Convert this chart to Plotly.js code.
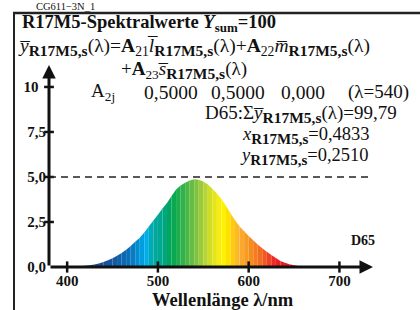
<!DOCTYPE html>
<html><head><meta charset="utf-8">
<script src="https://cdn.plot.ly/plotly-3.0.1.min.js"></script>
<style>html,body{margin:0;padding:0;background:#fff}#c{width:420px;height:310px}</style>
</head><body><div id="c"></div>
<script>
// ---- data ----
const wavelengths = [380,385,390,395,400,405,410,415,420,425,430,435,440,445,450,455,460,465,470,475,480,485,490,495,500,505,510,515,520,525,530,535,540,545,550,555,560,565,570,575,580,585,590,595,600,605,610,615,620,625,630,635,640,645,650,655,660,665,670,675,680,685,690,695,700,705,710,715,720];
const ySpectral = [0,0,0,0.005,0.01,0.02,0.03,0.05,0.07,0.10,0.14,0.20,0.28,0.37,0.48,0.62,0.78,0.96,1.17,1.40,1.62,1.92,2.25,2.58,2.90,3.25,3.55,3.95,4.30,4.52,4.68,4.80,4.87,4.85,4.75,4.58,4.35,4.08,3.78,3.40,2.98,2.60,2.25,1.98,1.72,1.48,1.25,1.04,0.85,0.66,0.50,0.34,0.23,0.15,0.10,0.06,0.04,0.025,0.015,0.008,0.004,0,0,0,0,0,0,0,0];
const xTickVals = [400,500,600,700];
const xTickText = ['400','500','600','700'];
const yTickVals = [0,2.5,5,7.5,10];
const yTickText = ['0,0','2,5','5,0','7,5','10\u2002'];
const refLevel = 5;
const A2j = ['0,5000','0,5000','0,000'];
const lambdaRef = 540;
const sumY = '99,79';
const xCoord = '0,4833';
const yCoord = '0,2510';

// ---- spectral colour (style) ----
const stops = [[380,'#2b2a6e'],[420,'#1f3a8c'],[450,'#14579f'],[470,'#0a72bb'],[480,'#0094d6'],[487,'#00aeef'],[494,'#00a9a5'],[505,'#00a78c'],[515,'#00a651'],[530,'#3cb44a'],[545,'#8dc63f'],[556,'#cadb2a'],[566,'#f5ea14'],[574,'#fff200'],[580,'#ffd400'],[590,'#fbb034'],[600,'#f7941d'],[615,'#f26522'],[630,'#ed1c24'],[655,'#cf1b2b'],[690,'#8a1a3a'],[720,'#4a1a40']];
function hex2rgb(h){return [parseInt(h.slice(1,3),16),parseInt(h.slice(3,5),16),parseInt(h.slice(5,7),16)];}
function specColor(l){
  if(l<=stops[0][0]) return stops[0][1];
  for(let i=1;i<stops.length;i++){
    if(l<=stops[i][0]){
      const a=hex2rgb(stops[i-1][1]), b=hex2rgb(stops[i][1]);
      const t=(l-stops[i-1][0])/(stops[i][0]-stops[i-1][0]);
      return 'rgb('+a.map((v,k)=>Math.round(v+(b[k]-v)*t)).join(',')+')';
    }
  }
  return stops[stops.length-1][1];
}

const traces = [];
for(let i=0;i<wavelengths.length-1;i++){
  const x0=wavelengths[i], x1=wavelengths[i+1];
  traces.push({type:'scatter',mode:'lines',x:[x0,x0,x1,x1],y:[0,ySpectral[i],ySpectral[i+1],0],
    fill:'toself',fillcolor:specColor((x0+x1)/2),line:{width:0},hoverinfo:'skip',showlegend:false});
}
// tick marks crossing axes
traces.push({type:'scatter',mode:'markers',x:xTickVals,y:xTickVals.map(()=>0),marker:{symbol:'line-ns-open',size:8,color:'#111',line:{width:2.5,color:'#111'}},showlegend:false,cliponaxis:false,hoverinfo:'skip'});
traces.push({type:'scatter',mode:'markers',x:yTickVals.slice(1).map(()=>380),y:yTickVals.slice(1),marker:{symbol:'line-ew-open',size:7,color:'#111',line:{width:2.5,color:'#111'}},showlegend:false,cliponaxis:false,hoverinfo:'skip'});

// layout helpers (pixel -> paper)
const L=49,T=65,W=324,H=202;
const px=(x)=> (x-L)/W, py=(y)=> (T+H-y)/H;
const F='Liberation Serif, Times New Roman, serif';
const sub='<sub><span style="font-size:15.5px"><b>R17M5,s</b></span></sub>';
const sub2='<sub><span style="font-size:15px"><b>R17M5,s</b></span></sub>';
function txt(x,y,text,size,anchor){return {xref:'paper',yref:'paper',x:px(x),y:py(y),xanchor:anchor||'left',yanchor:'middle',text:text,showarrow:false,font:{family:F,size:size,color:'#111'}};}

const ann = [
  {xref:'paper',yref:'paper',x:px(35),y:py(0),xanchor:'left',yanchor:'top',borderpad:0,text:'CG611−3N_1',showarrow:false,font:{family:F,size:10.5,color:'#111'}},
  txt(20,23,'<b>R17M5-Spektralwerte <i>Y</i><sub>sum</sub>=100</b>',18.5),
  txt(16,47,'<i>y̅</i>'+sub+'(λ)=<b>A</b><sub>21</sub><i>l̅</i>'+sub+'(λ)+<b>A</b><sub>22</sub><i>m̅</i>'+sub+'(λ)',19.5),
  txt(119,70,'+<b>A</b><sub>23</sub><i>s̅</i>'+sub+'(λ)',19),
  txt(89,92,'A<sub>2j</sub>',19),
  txt(142,92,A2j[0],19.5),
  txt(209,92,A2j[1],19.5),
  txt(279,92,A2j[2],19.5),
  txt(346,92,'(λ='+lambdaRef+')',19),
  txt(203,114,'D65:Σ<i>y̅</i>'+sub+'(λ)='+sumY,19),
  txt(240,135,'<i>x</i>'+sub2+'='+xCoord,18.5),
  txt(238,156,'<i>y</i>'+sub2+'='+yCoord,18.5),
  txt(349,240,'<b>D65</b>',14),
  {xref:'paper',yref:'paper',x:px(222.5),y:py(300),xanchor:'center',yanchor:'middle',text:'<b>Wellenlänge λ/nm</b>',showarrow:false,font:{family:F,size:18.5,color:'#111'}},
  // axis arrows
  {x:737,y:0,ax:380,ay:0,axref:'x',ayref:'y',xref:'x',yref:'y',showarrow:true,arrowhead:2,arrowsize:0.9,arrowwidth:3,arrowcolor:'#111',text:''},
  {x:380,y:11.22,ax:380,ay:0,axref:'x',ayref:'y',xref:'x',yref:'y',showarrow:true,arrowhead:2,arrowsize:0.9,arrowwidth:3,arrowcolor:'#111',text:''}
];

const shapes = [
  {type:'line',xref:'x',yref:'y',x0:380,x1:737,y0:refLevel,y1:refLevel,line:{color:'#222',width:1.5,dash:'7px,5px'}},
  {type:'line',xref:'paper',yref:'paper',x0:px(14),x1:px(14),y0:py(12),y1:py(312),line:{color:'#222',width:2}},
  {type:'line',xref:'paper',yref:'paper',x0:px(13),x1:px(422),y0:py(13),y1:py(13),line:{color:'#222',width:2.5}}
];

const layout = {
  width:420,height:310,margin:{l:L,r:420-L-W,t:T,b:310-T-H},
  paper_bgcolor:'#fff',plot_bgcolor:'#fff',showlegend:false,
  font:{family:F,color:'#111'},
  xaxis:{range:[380,737],showgrid:false,zeroline:false,showline:false,ticks:'',tickvals:xTickVals,ticktext:xTickText.map(t=>'<b>'+t+'</b>'),tickfont:{size:15,family:F},ticklabelstandoff:3},
  yaxis:{range:[0,11.22],showgrid:false,zeroline:false,showline:false,ticks:'',tickvals:yTickVals,ticktext:yTickText.map(t=>'<b>'+t+'</b>'),tickfont:{size:15,family:F},ticklabelstandoff:2},
  shapes:shapes,annotations:ann
};
Plotly.newPlot('c',traces,layout,{staticPlot:true,displayModeBar:false});
</script></body></html>
